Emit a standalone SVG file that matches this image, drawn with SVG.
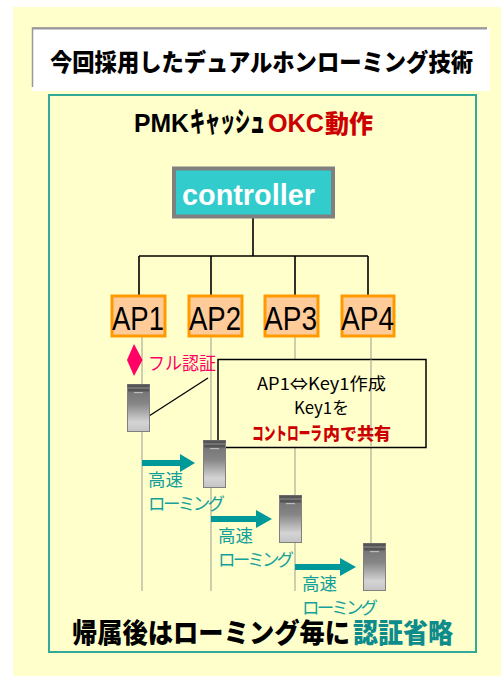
<svg xmlns="http://www.w3.org/2000/svg" width="501" height="676" viewBox="0 0 501 676">
<style>
.j{font-family:"Noto Sans CJK JP","Liberation Sans",sans-serif}
.a{font-family:"Liberation Sans","Noto Sans CJK JP",sans-serif}
.b{font-weight:700}
.h{font-weight:900}
.ap{fill:#FFCC99;stroke:#FF9900;stroke-width:3}
.apt{font-size:33px;fill:#000}
.life{stroke:#B4B4A0;stroke-width:1.300;fill:none}
.wire{stroke:#000;stroke-width:1.600;fill:none}
.teal{fill:#009999}
.tl{fill:#14A09A;font-size:17.500px}
.dev{fill:url(#devg);stroke:#808080;stroke-width:1}
.devt{fill:#555}
</style>
<defs>
<linearGradient id="devg" x1="0" y1="0" x2="0" y2="1">
<stop offset="0" stop-color="#6E6E6E"/><stop offset="0.4" stop-color="#858585"/><stop offset="0.8" stop-color="#D4D4D4"/><stop offset="1" stop-color="#C4C4C4"/>
</linearGradient>
<symbol id="device" overflow="visible">
<rect class="dev" x="0.5" y="0.5" width="22" height="47"/>
<rect class="devt" x="0.5" y="0.5" width="22" height="2.500"/>
<rect class="devt" x="1" y="5" width="21" height="2.500"/>
<rect x="7" y="8" width="9" height="1.200" fill="#BBB"/>
</symbol>
</defs>
<rect x="13" y="7" width="488" height="669" fill="#FFFFCC"/>
<g id="title">
<rect x="32" y="28" width="458" height="63" fill="#FFF"/>
<path d="M32.500 87V28H487" fill="none" stroke="#999" stroke-width="1.500"/>
<path d="M32.500 28.500H487" fill="none" stroke="#999" stroke-width="2"/>
<text class="j h" x="50" y="71" font-size="24" textLength="423" lengthAdjust="spacingAndGlyphs">今回採用したデュアルホンローミング技術</text>
</g>
<g id="panel">
<rect x="49" y="95" width="427" height="557" fill="#FFFFCC" stroke="#33AA99" stroke-width="2"/>
<text class="a b" x="134" y="132" font-size="26" textLength="55" lengthAdjust="spacingAndGlyphs">PMK</text>
<text class="j h" x="190" y="132" font-size="28" textLength="75" lengthAdjust="spacingAndGlyphs">キャッシュ</text>
<text class="a b" x="268" y="132" font-size="26" fill="#CC0000" textLength="56" lengthAdjust="spacingAndGlyphs">OKC</text>
<text class="j h" x="325" y="133" font-size="25" fill="#CC0000" textLength="48" lengthAdjust="spacingAndGlyphs">動作</text>
</g>
<g id="connectors">
<path class="wire" d="M253 218V256M139 256H368M139 256V295M211 256V295M295 256V295M368 256V295"/>
<path class="life" d="M142 337V591M211 337V591M295 337V591M371 337V544"/>
<path d="M149 416L208 378" stroke="#000" stroke-width="1.300" fill="none"/>
<path class="teal" d="M142 460H180V454L195 463L180 472V466H142Z"/>
<path class="teal" d="M211 516H256V510L272 519L256 528V522H211Z"/>
<path class="teal" d="M295 564H340V558L356 567L340 576V570H295Z"/>
</g>
<g id="controller">
<rect x="174" y="168.500" width="159" height="48" fill="#33CCCC" stroke="#808080" stroke-width="4"/>
<text class="a b" x="182" y="205" font-size="29" fill="#FFF" textLength="133" lengthAdjust="spacingAndGlyphs">controller</text>
</g>
<g id="ap1"><rect class="ap" x="112" y="296" width="53" height="40"/><text class="a apt" x="112" y="330" textLength="52" lengthAdjust="spacingAndGlyphs">AP1</text></g>
<g id="ap2"><rect class="ap" x="189" y="296" width="53" height="40"/><text class="a apt" x="189" y="330" textLength="52" lengthAdjust="spacingAndGlyphs">AP2</text></g>
<g id="ap3"><rect class="ap" x="265" y="296" width="53" height="40"/><text class="a apt" x="264" y="330" textLength="53" lengthAdjust="spacingAndGlyphs">AP3</text></g>
<g id="ap4"><rect class="ap" x="342" y="296" width="52" height="40"/><text class="a apt" x="341" y="330" textLength="53" lengthAdjust="spacingAndGlyphs">AP4</text></g>
<g id="full-auth">
<path d="M134 344L142.500 360L134 376L127 360Z" fill="#FF0066"/>
<text class="j" x="148" y="370" font-size="18" fill="#FF0066" textLength="68" lengthAdjust="spacingAndGlyphs">フル認証</text>
</g>
<g id="callout">
<rect x="218" y="359.500" width="208" height="88" fill="#FFFFCC" stroke="#000" stroke-width="1.500"/>
<path d="M371 359.500V447" class="life"/>
<text class="j" x="257" y="390" font-size="17" textLength="129" lengthAdjust="spacingAndGlyphs">AP1⇔Key1作成</text>
<text class="j" x="294" y="414" font-size="17" textLength="55" lengthAdjust="spacingAndGlyphs">Key1を</text>
<text class="j h" x="252" y="440" font-size="18" fill="#CC0000" textLength="70" lengthAdjust="spacingAndGlyphs">コントローラ</text>
<text class="j h" x="323" y="440" font-size="17" fill="#CC0000" textLength="68" lengthAdjust="spacing">内で共有</text>
</g>
<g id="device1"><use href="#device" x="127" y="384"/></g>
<g id="device2"><use href="#device" x="203" y="440"/></g>
<g id="device3"><use href="#device" x="279" y="495"/></g>
<g id="device4"><use href="#device" x="363" y="543"/></g>
<g id="roam1"><text class="j tl" x="148" y="486">高速</text><text class="j tl" x="148" y="510" textLength="77" lengthAdjust="spacing">ローミング</text></g>
<g id="roam2"><text class="j tl" x="218" y="542">高速</text><text class="j tl" x="218" y="566" textLength="76" lengthAdjust="spacing">ローミング</text></g>
<g id="roam3"><text class="j tl" x="302" y="590">高速</text><text class="j tl" x="302" y="614" textLength="76" lengthAdjust="spacing">ローミング</text></g>
<g id="summary">
<text class="j h" x="72" y="643" font-size="27" textLength="278" lengthAdjust="spacingAndGlyphs">帰属後はローミング毎に</text>
<text class="j h" x="353" y="643" font-size="27" fill="#0E8C8C" textLength="100" lengthAdjust="spacingAndGlyphs">認証省略</text>
</g>
</svg>
